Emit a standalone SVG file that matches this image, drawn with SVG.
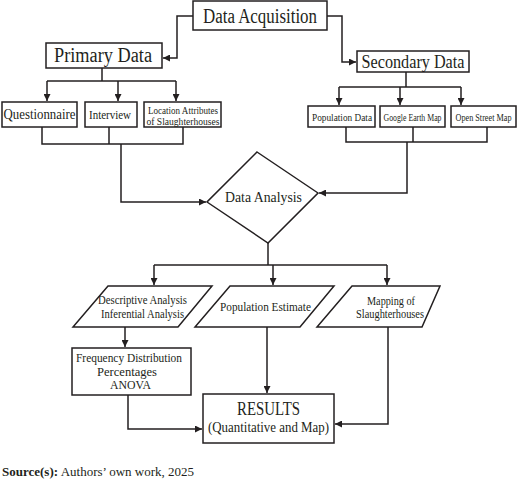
<svg xmlns="http://www.w3.org/2000/svg" width="520" height="487" viewBox="0 0 520 487">
<style>
.b{fill:#fff;stroke:#231f20;stroke-width:1.5}
.c{fill:none;stroke:#231f20;stroke-width:1.5}
text{font-family:"Liberation Serif","Times New Roman",serif;fill:#231f20;text-anchor:middle}
</style>
<defs>
<marker id="a" viewBox="0 0 10 10" refX="10" refY="5" markerWidth="7" markerHeight="7" markerUnits="userSpaceOnUse" orient="auto"><path d="M0,0L10,5L0,10z" fill="#231f20"/></marker>
</defs>
<rect width="520" height="487" fill="#fff"/>
<g id="connectors">
<path class="c" d="M193,16H177V58H163" marker-end="url(#a)"/>
<path class="c" d="M327,16H342V62H356" marker-end="url(#a)"/>
<path class="c" d="M102,68V81"/>
<path class="c" d="M47,81H176"/>
<path class="c" d="M47,81V101" marker-end="url(#a)"/>
<path class="c" d="M118,81V101" marker-end="url(#a)"/>
<path class="c" d="M176,81V101" marker-end="url(#a)"/>
<path class="c" d="M406,72V87"/>
<path class="c" d="M339,87H461"/>
<path class="c" d="M339,87V105" marker-end="url(#a)"/>
<path class="c" d="M400,87V105" marker-end="url(#a)"/>
<path class="c" d="M461,87V105" marker-end="url(#a)"/>
<path class="c" d="M42,127V144H183V127M109,127V144"/>
<path class="c" d="M121,144V202H206" marker-end="url(#a)"/>
<path class="c" d="M346,127V142H487V127M413,127V142"/>
<path class="c" d="M407,142V193H319" marker-end="url(#a)"/>
<path class="c" d="M268,243V265"/>
<path class="c" d="M154,265H387"/>
<path class="c" d="M154,265V285" marker-end="url(#a)"/>
<path class="c" d="M273,265V285" marker-end="url(#a)"/>
<path class="c" d="M387,265V285" marker-end="url(#a)"/>
<path class="c" d="M125,327V347" marker-end="url(#a)"/>
<path class="c" d="M128,395V429H202" marker-end="url(#a)"/>
<path class="c" d="M267,327V393" marker-end="url(#a)"/>
<path class="c" d="M388,327V424H335" marker-end="url(#a)"/>
</g>
<g id="data-acquisition"><rect class="b" x="193" y="1" width="134" height="29"/><text x="260" y="22.5" font-size="20" textLength="114" lengthAdjust="spacingAndGlyphs">Data Acquisition</text></g>
<g id="primary-data"><rect class="b" x="46" y="43" width="116" height="25"/><text x="103" y="62" font-size="20" textLength="98" lengthAdjust="spacingAndGlyphs">Primary Data</text></g>
<g id="secondary-data"><rect class="b" x="357" y="51" width="112" height="21"/><text x="413" y="68" font-size="19" textLength="103" lengthAdjust="spacingAndGlyphs">Secondary Data</text></g>
<g id="questionnaire"><rect class="b" x="2" y="102" width="75" height="25"/><text x="39.5" y="119" font-size="14.5" textLength="72" lengthAdjust="spacingAndGlyphs">Questionnaire</text></g>
<g id="interview"><rect class="b" x="85" y="102" width="52" height="25"/><text x="110" y="119" font-size="13" textLength="42" lengthAdjust="spacingAndGlyphs">Interview</text></g>
<g id="location-attributes"><rect class="b" x="144" y="102" width="77" height="25"/><text x="183" y="113.5" font-size="10.5" textLength="70" lengthAdjust="spacingAndGlyphs">Location Attributes</text><text x="183" y="124.5" font-size="10.5" textLength="73" lengthAdjust="spacingAndGlyphs">of Slaughterhouses</text></g>
<g id="population-data"><rect class="b" x="308" y="106" width="67" height="21"/><text x="342" y="120.5" font-size="10.5" textLength="60" lengthAdjust="spacingAndGlyphs">Population Data</text></g>
<g id="google-earth-map"><rect class="b" x="380" y="106" width="65" height="21"/><text x="412.5" y="120.5" font-size="10.5" textLength="58" lengthAdjust="spacingAndGlyphs">Google Earth Map</text></g>
<g id="open-street-map"><rect class="b" x="451" y="106" width="65" height="21"/><text x="483.5" y="120.5" font-size="10" textLength="56" lengthAdjust="spacingAndGlyphs">Open Street Map</text></g>
<g id="data-analysis"><polygon class="b" points="257,152 318,193 268,243 207,202"/><text x="263.5" y="202" font-size="15" textLength="77" lengthAdjust="spacingAndGlyphs">Data Analysis</text></g>
<g id="descriptive-analysis"><polygon class="b" points="108,286 212,286 178,327 73,327"/><text x="142.5" y="304" font-size="12" textLength="89" lengthAdjust="spacingAndGlyphs">Descriptive Analysis</text><text x="142.5" y="317.5" font-size="12" textLength="83" lengthAdjust="spacingAndGlyphs">Inferential Analysis</text></g>
<g id="population-estimate"><polygon class="b" points="230,286 334,286 300,327 195,327"/><text x="265.5" y="310.5" font-size="13" textLength="91" lengthAdjust="spacingAndGlyphs">Population Estimate</text></g>
<g id="mapping"><polygon class="b" points="352,286 440,286 422,327 317,327"/><text x="391" y="305" font-size="11.5" textLength="48" lengthAdjust="spacingAndGlyphs">Mapping of</text><text x="390" y="318" font-size="11.5" textLength="68" lengthAdjust="spacingAndGlyphs">Slaughterhouses</text></g>
<g id="frequency"><rect class="b" x="72" y="348" width="119" height="47"/><text x="129" y="362" font-size="12" textLength="106" lengthAdjust="spacingAndGlyphs">Frequency Distribution</text><text x="127" y="375.5" font-size="12" textLength="60" lengthAdjust="spacingAndGlyphs">Percentages</text><text x="130.5" y="389" font-size="12" textLength="41" lengthAdjust="spacingAndGlyphs">ANOVA</text></g>
<g id="results"><rect class="b" x="203" y="394" width="131" height="49"/><text x="268.5" y="415" font-size="18" textLength="63" lengthAdjust="spacingAndGlyphs">RESULTS</text><text x="268.5" y="432" font-size="15" textLength="121" lengthAdjust="spacingAndGlyphs">(Quantitative and Map)</text></g>
<text x="2" y="476" font-size="13" style="text-anchor:start"><tspan font-weight="bold">Source(s):</tspan> Authors’ own work, 2025</text>
</svg>
